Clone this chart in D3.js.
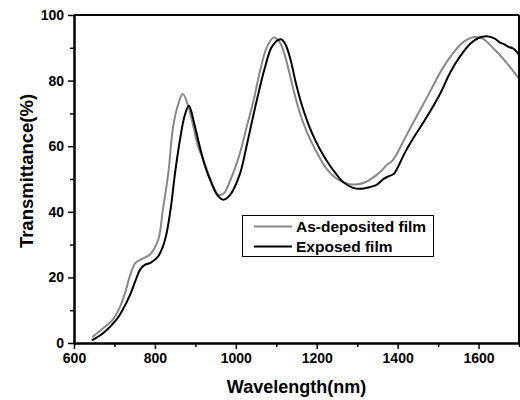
<!DOCTYPE html>
<html>
<head>
<meta charset="utf-8">
<script src="https://cdn.jsdelivr.net/npm/d3@7"></script>
<style>
  body { margin: 0; background: #fff; }
  text { font-family: "Liberation Sans", Arial, sans-serif; font-weight: bold; }
</style>
</head>
<body>
<div id="chart"></div>
<script>
// data
let wlDeposited = [645, 672, 697, 714, 726, 738, 751, 767, 788, 808, 819, 833, 845, 858, 869, 883,
  895, 907, 920, 932, 945, 957, 970, 986, 1010, 1027, 1043, 1060, 1076, 1093, 1105, 1118, 1130,
  1145, 1160, 1175, 1190, 1205, 1225, 1250, 1275, 1295, 1320, 1340, 1360, 1373, 1385, 1395, 1410,
  1431, 1460, 1488, 1510, 1538, 1560, 1587, 1610, 1637, 1655, 1670, 1685, 1700];
let tDeposited = [1.8, 4.5, 7.3, 11.1, 15.2, 20.3, 24.3, 25.6, 27.0, 31.4, 40, 51.7, 65.9, 73, 75.9, 72,
  66, 59.8, 55.8, 51.7, 47.5, 45.2, 45.6, 49.5, 57.8, 66, 73.5, 83, 90, 93.1, 92.3, 89, 83.5,
  76, 69.5, 64.5, 60.5, 57, 53, 50, 48.6, 48.3, 49, 50.5, 52.5, 54.3, 55.3, 57, 60.5,
  65.5, 72, 78.5, 83.5, 88.5, 91.5, 93.2, 92.8, 89.8, 87.5, 85.3, 83, 80.7];

let wlExposed = [644, 672, 705, 722, 738, 752, 763, 775, 790, 808, 820, 829, 839, 850, 862, 874,
  884, 897, 911, 925, 940, 955, 969, 985, 1010, 1027, 1050, 1072, 1090, 1111, 1122, 1135, 1148,
  1162, 1177, 1192, 1207, 1225, 1245, 1266, 1290, 1307, 1330, 1348, 1365, 1377, 1390, 1398, 1420,
  1439, 1470, 1505, 1530, 1554, 1580, 1600, 1620, 1640, 1653, 1665, 1674, 1685, 1693, 1700];
let tExposed = [0.8, 3.0, 7.1, 10.5, 14.5, 19, 22.3, 23.8, 24.5, 26.4, 29.5, 33.5, 41, 52, 62, 69.5,
  72.3, 67, 59.8, 53.5, 48.7, 45, 43.7, 45, 51.5, 60.3, 73, 84, 90.5, 92.6, 91.2, 86.5, 79.5,
  73, 67.5, 63, 59.3, 55.5, 52, 49, 47.3, 47, 47.5, 48.2, 50, 50.8, 51.5, 53, 58.5,
  62.5, 68.5, 76, 82.5, 87.3, 91.3, 93, 93.5, 92.8, 91.6, 91, 90.3, 89.8, 89, 87.8];

let seriesNames = ["As-deposited film", "Exposed film"];
let seriesColors = ["#888888", "#000000"];

let xMajor = [600, 800, 1000, 1200, 1400, 1600];
let xMinor = [700, 900, 1100, 1300, 1500, 1700];
let yMajor = [0, 20, 40, 60, 80, 100];
let yMinor = [10, 30, 50, 70, 90];

let width = 520;
let height = 400;
let plotLeft = 74, plotRight = 519, plotTop = 15, plotBottom = 343;

let svg = d3.select("#chart")
  .append("svg")
  .attr("width", width).attr("height", height);

let xScale = d3.scaleLinear().domain([600, 1700]).range([plotLeft, plotRight]);
let yScale = d3.scaleLinear().domain([0, 100]).range([plotBottom, plotTop]);

svg.append("clipPath").attr("id", "plotclip")
  .append("rect")
  .attr("x", plotLeft).attr("y", plotTop)
  .attr("width", plotRight - plotLeft).attr("height", plotBottom - plotTop);

let series = [
  {wl: wlDeposited, t: tDeposited},
  {wl: wlExposed, t: tExposed}
];

let line = d3.line()
  .x(d => xScale(d[0]))
  .y(d => yScale(d[1]))
  .curve(d3.curveCatmullRom.alpha(0.5));

series.forEach(function(s, i) {
  svg.append("path")
    .datum(d3.zip(s.wl, s.t))
    .attr("clip-path", "url(#plotclip)")
    .attr("fill", "none")
    .attr("stroke", seriesColors[i])
    .attr("stroke-width", 2)
    .attr("d", line);
});

// axes
svg.append("g")
  .attr("transform", "translate(0," + plotBottom + ")")
  .call(d3.axisBottom(xScale).tickValues(xMajor).tickFormat(d3.format("d"))
    .tickSize(6).tickPadding(4).tickSizeOuter(0));
svg.append("g")
  .attr("transform", "translate(0," + plotBottom + ")")
  .call(d3.axisBottom(xScale).tickValues(xMinor).tickSize(4).tickFormat("").tickSizeOuter(0));

svg.append("g")
  .attr("transform", "translate(" + plotLeft + ",0)")
  .call(d3.axisLeft(yScale).tickValues(yMajor).tickFormat(d3.format("d"))
    .tickSize(6).tickPadding(4).tickSizeOuter(0));
svg.append("g")
  .attr("transform", "translate(" + plotLeft + ",0)")
  .call(d3.axisLeft(yScale).tickValues(yMinor).tickSize(4).tickFormat("").tickSizeOuter(0));

svg.selectAll(".domain").attr("stroke", "#000").attr("stroke-width", 2);
svg.selectAll(".tick line").attr("stroke", "#000").attr("stroke-width", 1.5);
svg.selectAll(".tick text")
  .attr("fill", "#000")
  .style("font-size", "14px")
  .style("font-family", "'Liberation Sans', Arial, sans-serif")
  .style("font-weight", "bold");

// top and right frame
svg.append("line")
  .attr("x1", plotLeft).attr("x2", plotRight).attr("y1", plotTop).attr("y2", plotTop)
  .attr("stroke", "#000").attr("stroke-width", 2);
svg.append("line")
  .attr("x1", plotRight).attr("x2", plotRight).attr("y1", plotTop).attr("y2", plotBottom)
  .attr("stroke", "#000").attr("stroke-width", 2);

// axis titles
svg.append("text").text("Wavelength(nm)")
  .attr("x", (plotLeft + plotRight) / 2).attr("y", 393)
  .attr("text-anchor", "middle")
  .style("font-size", "18px");

svg.append("text").text("Transmittance(%)")
  .attr("transform", "translate(33,171)rotate(-90)")
  .attr("text-anchor", "middle")
  .style("font-size", "18.5px");

// legend
let legend = svg.append("g");
legend.append("rect")
  .attr("x", 242.5).attr("y", 215.5)
  .attr("width", 191).attr("height", 41)
  .attr("fill", "#fff").attr("stroke", "#000").attr("stroke-width", 1);

seriesNames.forEach(function(name, i) {
  let y = 226.5 + i * 20;
  legend.append("line")
    .attr("x1", 254).attr("x2", 292).attr("y1", y).attr("y2", y)
    .attr("stroke", seriesColors[i]).attr("stroke-width", 2);
  legend.append("text").text(name)
    .attr("x", 296).attr("y", y + 5.5)
    .style("font-size", "15.5px");
});
</script>
</body>
</html>
